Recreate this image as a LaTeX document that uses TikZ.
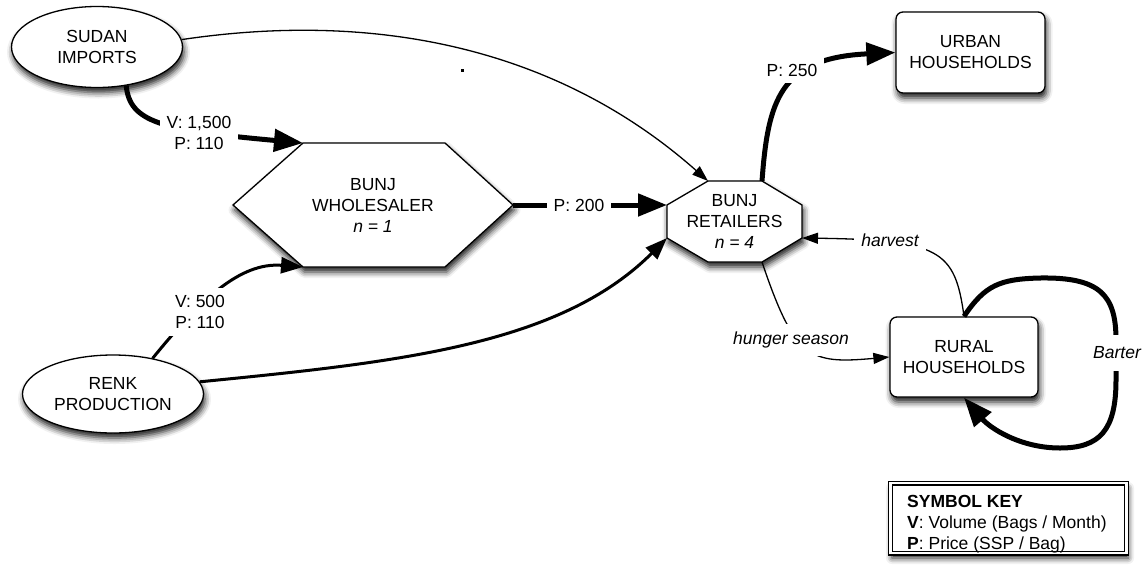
\documentclass[tikz,border=0pt]{standalone}
\usepackage{fontspec}
\setmainfont{Liberation Sans}
\usetikzlibrary{arrows.meta,shapes.geometric,shadows.blur,calc}

\begin{document}
\begin{tikzpicture}[x=1pt,y=-1pt,
  every node/.style={font=\fontsize{17.5}{21}\selectfont, align=center},
  itfont/.style={font=\fontsize{17.5}{21}\selectfont\itshape},
  softshadow/.style={blur shadow={shadow xshift=1.5pt,shadow yshift=-5pt,shadow blur radius=6pt,shadow opacity=90}},
  ovalnode/.style={ellipse, draw, line width=1.3pt, fill=white, softshadow, inner sep=0pt},
  roundbox/.style={rectangle, rounded corners=7pt, draw, line width=1.3pt, fill=white, softshadow, inner sep=0pt},
  polyshape/.style={draw, line width=1.3pt, fill=white, softshadow, line join=miter},
  flowlabel/.style={fill=white, inner sep=7pt},
  flowthin/.style={draw=black, line width=1.3pt, -{Triangle[length=16pt,width=11pt,color=black,fill=black]}},
  flowmid/.style={draw=black, line width=3pt, -{Triangle[length=22pt,width=16pt,color=black,fill=black]}},
  flowthick/.style={draw=black, line width=5pt, -{Triangle[length=29pt,width=22pt,color=black,fill=black]}},
]
\useasboundingbox (0,0) rectangle (1145,568);

% sources
\node[ovalnode, minimum width=171pt, minimum height=81pt] (sud) at (97,47) {SUDAN\\IMPORTS};
\node[ovalnode, minimum width=181pt, minimum height=78pt] (rnk) at (113,394) {RENK\\PRODUCTION};

% wholesaler (hexagon)
\coordinate (w1) at (233,205);
\coordinate (w2) at (303,143);
\coordinate (w3) at (445,143);
\coordinate (w4) at (513,205);
\coordinate (w5) at (445,267);
\coordinate (w6) at (303,267);
\path[polyshape] (w1) -- (w2) -- (w3) -- (w4) -- (w5) -- (w6) -- cycle;
\node (whl) at (373,205) {BUNJ\\WHOLESALER\\\textit{n = 1}};

% retailers (octagon)
\coordinate (r1) at (708,181);
\coordinate (r2) at (762,181);
\coordinate (r3) at (802,205);
\coordinate (r4) at (802,238);
\coordinate (r5) at (762,262);
\coordinate (r6) at (708,262);
\coordinate (r7) at (667,238);
\coordinate (r8) at (667,205);
\path[polyshape] (r1) -- (r2) -- (r3) -- (r4) -- (r5) -- (r6) -- (r7) -- (r8) -- cycle;
\node (ret) at (734.5,221) {BUNJ\\RETAILERS\\\textit{n = 4}};

% households
\node[roundbox, minimum width=149pt, minimum height=81pt] (urb) at (970.5,52.5) {URBAN\\HOUSEHOLDS};
\node[roundbox, minimum width=148pt, minimum height=80pt] (rur) at (964,357) {RURAL\\HOUSEHOLDS};

% flows
\draw[flowthick] (sud.-53) .. controls (130,122) and (160,130) .. (w2);
\draw[flowthin] (sud.5) .. controls (380,10) and (560,50) .. (r1);
\draw[flowthick] (w4) -- (r8);
\draw[flowmid] (rnk.42) .. controls (200,300) and (240,262) .. (w6);
\draw[flowmid] (rnk.8) .. controls (400,362) and (560,345) .. (r7);
\draw[flowthick] (r2) .. controls (768,100) and (780,58) .. (urb.west);
\draw[flowthin] (r5) .. controls (795,360) and (810,364) .. (rur.west);
\draw[flowthin] (rur.north) .. controls (955,250) and (940,240) .. (r4);
\draw[flowthick] (rur.north) .. controls (985,285) and (1000,279) .. (1040,278)
  .. controls (1100,277) and (1116,295) .. (1116,340) -- (1116,380)
  .. controls (1116,430) and (1100,448) .. (1060,448)
  .. controls (1020,448) and (990,428) .. (rur.south);

% flow labels
\node[flowlabel] (l1) at (199,133) {V: 1,500\\P: 110};
\node[flowlabel] (l2) at (579,205) {P: 200};
\node[flowlabel] (l3) at (200,312) {V: 500\\P: 110};
\node[flowlabel] (l4) at (792,70) {P: 250};
\node[flowlabel, itfont, inner ysep=8pt] (l5) at (791,340) {hunger season};
\node[flowlabel, itfont] (l6) at (890,240) {harvest};
\node[flowlabel, itfont, inner ysep=12pt] (l7) at (1117,353) {Barter};

% stray mark
\fill (461,69) rectangle (464,71.5);

% symbol key
\node[draw, line width=1.2pt, double, double distance=2.6pt, fill=white, softshadow,
      minimum width=236pt, minimum height=70pt, inner sep=0pt] (key) at (1008.5,518) {};
\node[align=left, anchor=north west, inner sep=0pt] (keytxt) at (907,495.5)
  {\textbf{SYMBOL KEY}\\\textbf{V}: Volume (Bags / Month)\\\textbf{P}: Price (SSP / Bag)};
\end{tikzpicture}
\end{document}
